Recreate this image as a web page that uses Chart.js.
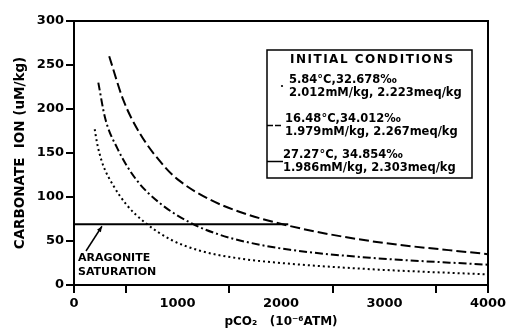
<!DOCTYPE html>
<html><head><meta charset="utf-8">
<script src="https://cdn.jsdelivr.net/npm/chart.js@4/dist/chart.umd.min.js"></script>
<style>html,body{margin:0;padding:0;background:#fff}#wrap{width:511px;height:329px;position:relative}</style>
</head><body><div id="wrap"><canvas id="c" width="511" height="329"></canvas></div>
<script>
// 5.84 C (dotted)
const pco2Cold = [200, 220, 245, 285, 380, 509, 686, 928, 1217, 1604, 2000, 2860, 4000];
const co3Cold  = [177, 163, 150, 135, 113, 91, 71, 52, 39, 30, 25, 18, 12];
// 16.48 C (dash-dot)
const pco2Mid = [235, 300, 420, 600, 830, 1137, 1411, 1700, 2087, 2860, 4000];
const co3Mid  = [230, 190, 155, 120, 93, 70, 57, 48, 40, 31, 23];
// 27.27 C (long dash)
const pco2Warm = [340, 477, 638, 879, 1024, 1314, 1604, 2087, 2860, 4000];
const co3Warm  = [260, 210, 172, 134, 118, 97, 83, 67, 50, 35];
// aragonite saturation
const pco2Sat = [0, 2070];
const co3Sat  = [69, 69];

const xTicks = [0, 1000, 2000, 3000, 4000];
const yTicks = [0, 50, 100, 150, 200, 250, 300];

const legendTitle = 'INITIAL CONDITIONS';
const legendLines = [
  ['5.84°C,32.678‰', '2.012mM/kg, 2.223meq/kg'],
  ['16.48°C,34.012‰', '1.979mM/kg, 2.267meq/kg'],
  ['27.27°C, 34.854‰', '1.986mM/kg, 2.303meq/kg']
];
const satLabel = ['ARAGONITE', 'SATURATION'];

const pts = (xs, ys) => xs.map((x, i) => ({x, y: ys[i]}));
const FONT = 'DejaVu Sans';

const extras = {
  id: 'extras',
  afterDraw(chart) {
    const ctx = chart.ctx, a = chart.chartArea;
    const xs = chart.scales.x, ys = chart.scales.y;
    ctx.save();
    ctx.strokeStyle = '#000'; ctx.lineWidth = 2;
    ctx.beginPath();
    ctx.moveTo(a.left, a.top); ctx.lineTo(a.right, a.top); ctx.lineTo(a.right, a.bottom);
    ctx.stroke();
    // legend box
    ctx.lineWidth = 1.5;
    ctx.strokeRect(267, 50, 205, 128);
    ctx.fillStyle = '#000';
    ctx.textBaseline = 'middle'; ctx.textAlign = 'left';
    ctx.font = 'bold 12px "' + FONT + '"';
    ctx.letterSpacing = '1.5px';
    ctx.fillText(legendTitle, 290, 60);
    ctx.letterSpacing = '0px';
    ctx.font = 'bold 11.5px "' + FONT + '"';
    const lx = [289, 285, 283], ly = [80, 119, 155];
    legendLines.forEach((l, i) => {
      ctx.fillText(l[0], lx[i], ly[i]);
      ctx.fillText(l[1], lx[i], ly[i] + 13);
    });
    // legend symbols
    ctx.beginPath(); ctx.arc(282, 86, 1.1, 0, Math.PI * 2); ctx.fill();
    ctx.lineWidth = 1.5;
    ctx.beginPath();
    ctx.moveTo(267, 125.5); ctx.lineTo(273, 125.5);
    ctx.moveTo(275, 125.5); ctx.lineTo(281, 125.5);
    ctx.moveTo(267, 161.5); ctx.lineTo(283, 161.5);
    ctx.stroke();
    // saturation label and arrow
    ctx.font = 'bold 11px "' + FONT + '"';
    ctx.fillText(satLabel[0], 78, 258);
    ctx.fillText(satLabel[1], 78, 272);
    const tipX = xs.getPixelForValue(270), tipY = ys.getPixelForValue(co3Sat[0]) + 2;
    const tailX = 86, tailY = 251;
    ctx.lineWidth = 1.5;
    ctx.beginPath(); ctx.moveTo(tailX, tailY); ctx.lineTo(tipX, tipY); ctx.stroke();
    const ang = Math.atan2(tipY - tailY, tipX - tailX);
    ctx.beginPath();
    ctx.moveTo(tipX, tipY);
    ctx.lineTo(tipX - 6 * Math.cos(ang - 0.4), tipY - 6 * Math.sin(ang - 0.4));
    ctx.lineTo(tipX - 6 * Math.cos(ang + 0.4), tipY - 6 * Math.sin(ang + 0.4));
    ctx.closePath(); ctx.fill();
    ctx.restore();
  }
};

new Chart(document.getElementById('c'), {
  type: 'line',
  data: {
    datasets: [
      {label: 'sat', data: pts(pco2Sat, co3Sat), borderColor: '#000', borderWidth: 2, pointRadius: 0, tension: 0},
      {label: '5.84', data: pts(pco2Cold, co3Cold), borderColor: '#000', borderWidth: 2, borderDash: [2, 3], pointRadius: 0, cubicInterpolationMode: 'monotone'},
      {label: '16.48', data: pts(pco2Mid, co3Mid), borderColor: '#000', borderWidth: 2, borderDash: [8, 3, 2, 3], pointRadius: 0, cubicInterpolationMode: 'monotone'},
      {label: '27.27', data: pts(pco2Warm, co3Warm), borderColor: '#000', borderWidth: 2, borderDash: [10, 4], pointRadius: 0, cubicInterpolationMode: 'monotone'}
    ]
  },
  options: {
    responsive: false, animation: false, devicePixelRatio: 1,
    layout: {padding: {top: 21, right: 23, left: 0, bottom: 0}},
    plugins: {legend: {display: false}, tooltip: {enabled: false}},
    scales: {
      x: {
        type: 'linear', min: 0, max: 4000,
        afterFit: s => { s.height = 44; },
        afterBuildTicks: s => { s.ticks = [0,500,1000,1500,2000,2500,3000,3500,4000].map(v => ({value: v})); },
        ticks: {color: '#000', font: {family: FONT, weight: 'bold', size: 13}, padding: 3, maxRotation: 0, autoSkip: false,
          callback: v => xTicks.includes(v) ? String(v) : ''},
        grid: {drawOnChartArea: false, tickLength: 8, lineWidth: 2,
          color: c => (c.tick && xTicks.includes(c.tick.value) && c.tick.value > 0 && c.tick.value < 4000) ? 'rgba(0,0,0,0)' : '#000'},
        border: {color: '#000', width: 2},
        title: {display: true, text: 'pCO₂   (10⁻⁶ATM)', color: '#000', font: {family: FONT, weight: 'bold', size: 12}, padding: {top: 0, bottom: 0}}
      },
      y: {
        type: 'linear', min: 0, max: 300,
        afterFit: s => { s.width = 74; },
        afterBuildTicks: s => { s.ticks = yTicks.map(v => ({value: v})); },
        ticks: {color: '#000', font: {family: FONT, weight: 'bold', size: 13}, padding: 2},
        grid: {drawOnChartArea: false, tickLength: 8, lineWidth: 2, color: '#000'},
        border: {color: '#000', width: 2},
        title: {display: true, text: 'CARBONATE  ION (uM/kg)', color: '#000', font: {family: FONT, weight: 'bold', size: 13.5}, padding: {top: 12, bottom: 0}}
      }
    }
  },
  plugins: [extras]
});
</script></body></html>
